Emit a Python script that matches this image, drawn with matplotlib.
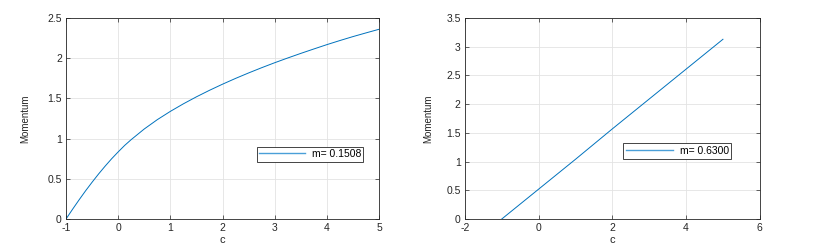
import matplotlib
matplotlib.use("Agg")
import matplotlib.pyplot as plt
from matplotlib.lines import Line2D

# Left panel: m = 0.1508
c_left = [-1, -0.875, -0.75, -0.625, -0.5, -0.375, -0.25, -0.125, 0, 0.125, 0.25, 0.5, 0.75, 1,
          1.25, 1.5, 1.75, 2, 2.25, 2.5, 2.75, 3, 3.25, 3.5, 3.75, 4, 4.25, 4.5, 4.75, 5]
mom_left = [0, 0.121, 0.238, 0.351, 0.458, 0.561, 0.658, 0.750, 0.835, 0.916, 0.988, 1.120,
            1.236, 1.339, 1.433, 1.520, 1.601, 1.677, 1.749, 1.817, 1.882, 1.944, 2.003,
            2.060, 2.115, 2.169, 2.220, 2.269, 2.315, 2.360]
label_left = "m= 0.1508"

# Right panel: m = 0.6300
c_right = [-1, 0, 1, 2, 3, 4, 5]
mom_right = [0, 0.52, 1.04, 1.57, 2.09, 2.61, 3.13]
label_right = "m= 0.6300"

left_xticks = [-1, 0, 1, 2, 3, 4, 5]
left_yticks = [0, 0.5, 1, 1.5, 2, 2.5]
right_xticks = [-2, 0, 2, 4, 6]
right_yticks = [0, 0.5, 1, 1.5, 2, 2.5, 3, 3.5]

plt.rcParams['font.family'] = ['Liberation Sans', 'DejaVu Sans']
plt.rcParams['font.size'] = 7

fig = plt.figure(figsize=(8.17, 2.45), dpi=100)
ax1 = fig.add_axes([0.0808, 0.106, 0.3831, 0.8204])
ax2 = fig.add_axes([0.569, 0.106, 0.361, 0.8204])

LINE_C = '#0072BD'

def style(ax, xt, yt, xlim, ylim, ypad):
    ax.set_xlim(*xlim)
    ax.set_ylim(*ylim)
    ax.set_xticks(xt)
    ax.set_yticks(yt)
    ax.set_xticklabels([f"{v:g}" for v in xt])
    ax.set_yticklabels([f"{v:g}" for v in yt])
    ax.grid(True, color='#e3e3e3', linewidth=0.6)
    ax.set_axisbelow(True)
    ax.tick_params(direction='in', length=3, width=0.5, top=True, right=True,
                   colors='#262626', labelsize=7.5, pad=3)
    for s in ax.spines.values():
        s.set_linewidth(0.6)
        s.set_color('#262626')
    ax.set_xlabel('c', fontsize=8, color='#262626', labelpad=1)
    ax.set_ylabel('Momentum', fontsize=7, color='#262626', labelpad=ypad,
                  family=['Liberation Sans Narrow', 'Liberation Sans', 'DejaVu Sans'])

def add_legend(ax, label, center, hl):
    h = Line2D([], [], color='#4a9fd8', linewidth=1.0)
    leg = ax.legend([h], [label], loc='center', bbox_to_anchor=center, fancybox=False,
                    edgecolor='#262626', handlelength=hl, fontsize=7.5,
                    borderpad=0.25, handletextpad=0.6, framealpha=1)
    leg.get_frame().set_linewidth(0.6)

ax1.plot(c_left, mom_left, color=LINE_C, linewidth=0.7)
style(ax1, left_xticks, left_yticks, (-1, 5), (0, 2.5), 12)
add_legend(ax1, label_left, (0.78, 0.323), 4.4)

ax2.plot(c_right, mom_right, color=LINE_C, linewidth=0.7)
style(ax2, right_xticks, right_yticks, (-2, 6), (0, 3.5), 9)
add_legend(ax2, label_right, (0.72, 0.338), 4.6)

fig.savefig('out.png', dpi=100)
